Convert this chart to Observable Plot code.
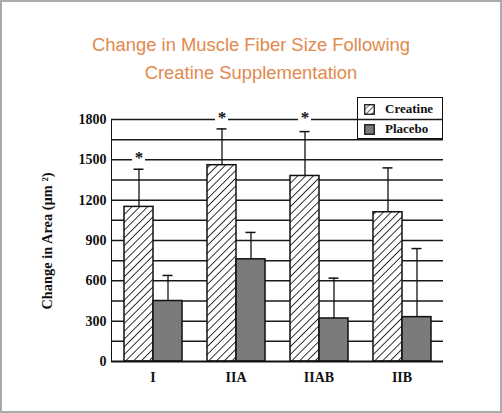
<!DOCTYPE html>
<html>
<head>
<meta charset="utf-8">
<script src="https://cdn.jsdelivr.net/npm/d3@7"></script>
<script src="https://cdn.jsdelivr.net/npm/@observablehq/plot@0.6"></script>
<style>
  html, body { margin: 0; padding: 0; background: #fff; }
  #wrap { position: relative; width: 502px; height: 413px; overflow: hidden; background: #fff; }
  #border { position: absolute; left: 0; top: 0; width: 502px; height: 413px; box-sizing: border-box; border: 2px solid #ababab; pointer-events: none; }
  #title { height: 95px; box-sizing: border-box; padding-top: 31px; text-align: center; font-family: "Liberation Sans", Arial, sans-serif; font-size: 18.4px; line-height: 28px; color: #e2894d; }
  #chart svg { display: block; background: transparent; }
  #ylabel { position: absolute; left: 47px; top: 241px; transform: translate(-50%, -50%) rotate(-90deg); white-space: nowrap; font-family: "Liberation Serif", "Times New Roman", serif; font-weight: bold; font-size: 14.4px; color: #111; }
  #legend { position: absolute; left: 357px; top: 97px; width: 86px; height: 42px; box-sizing: border-box; border: 1.5px solid #111; font-family: "Liberation Serif", "Times New Roman", serif; font-weight: bold; font-size: 13px; color: #111; }
  #legend .row { position: absolute; left: 6px; display: flex; align-items: center; }
  #legend .row svg { margin-right: 10px; }
</style>
</head>
<body>
<div id="wrap">
  <div id="title">Change in Muscle Fiber Size Following<br>Creatine Supplementation</div>
  <div id="chart"></div>
  <div id="ylabel">Change in Area (µm ²)</div>
  <div id="legend"></div>
  <div id="border"></div>
</div>
<script>
// ---- data ----
const fiberTypes = ["I", "IIA", "IIAB", "IIB"];
const seriesNames = ["Creatine", "Placebo"];
const creatineMean = [1150, 1460, 1380, 1110];
const creatineErr = [280, 270, 330, 330];
const placeboMean = [450, 760, 320, 330];
const placeboErr = [190, 200, 300, 510];
const significance = [1500, 1800, 1800, null]; // asterisk level above creatine bar
const yTickLabels = [0, 300, 600, 900, 1200, 1500, 1800];
const gridLevels = [150, 300, 450, 600, 750, 900, 1050, 1200, 1350, 1500, 1650, 1800];

const fills = { Creatine: "url(#hatch)", Placebo: "#7b7b7b" };

const rows = [];
fiberTypes.forEach((t, i) => {
  rows.push({ type: t, series: "Creatine", mean: creatineMean[i], err: creatineErr[i] });
  rows.push({ type: t, series: "Placebo", mean: placeboMean[i], err: placeboErr[i] });
});
rows.forEach(d => d.top = d.mean + d.err);
const sigRows = fiberTypes.map((t, i) => ({ type: t, series: "Creatine", y: significance[i] })).filter(d => d.y != null);
const boundaryRows = fiberTypes.map(t => ({ type: t, series: "Placebo" }));

const defs = () => {
  const g = d3.create("svg:defs");
  const p = g.append("pattern").attr("id", "hatch").attr("patternUnits", "userSpaceOnUse")
    .attr("width", 5.5).attr("height", 5.5).attr("patternTransform", "rotate(45)");
  p.append("rect").attr("width", 5.5).attr("height", 5.5).attr("fill", "white");
  p.append("line").attr("x1", 0).attr("y1", 0).attr("x2", 0).attr("y2", 5.5).attr("stroke", "#111").attr("stroke-width", 1.7);
  return g.node();
};

const serif = "'Liberation Serif', 'Times New Roman', serif";

const chart = Plot.plot({
  width: 502,
  height: 318,
  marginLeft: 109,
  marginRight: 58,
  marginTop: 24,
  marginBottom: 52,
  style: { fontFamily: serif, fontWeight: "bold", fontSize: "14px", color: "#111", background: "transparent" },
  fx: { domain: fiberTypes, padding: 0, axis: "bottom", tickSize: 0, tickPadding: 11, label: null },
  x: { domain: seriesNames, paddingInner: 0, paddingOuter: 0.4, axis: null },
  y: { domain: [0, 1800], ticks: yTickLabels, tickSize: 0, tickPadding: 5, tickFormat: d => String(d), label: null, line: true },
  marks: [
    defs,
    Plot.ruleY(gridLevels, { stroke: "#1a1a1a", strokeWidth: 1.5 }),
    Plot.tickY(sigRows, { fx: "type", x: "series", y: "y", stroke: "white", strokeWidth: 4, insetLeft: 8, insetRight: 8 }),
    Plot.text(sigRows, { fx: "type", x: "series", y: "y", text: () => "*", fontSize: 17, dy: -2, lineAnchor: "middle", fill: "#111" }),
    Plot.ruleX(rows, { fx: "type", x: "series", y1: "mean", y2: "top", stroke: "#111", strokeWidth: 1.3 }),
    Plot.tickY(rows, { fx: "type", x: "series", y: "top", stroke: "#111", strokeWidth: 1.5, insetLeft: 9.5, insetRight: 9.5 }),
    Plot.barY(rows, { fx: "type", x: "series", y: "mean", fill: d => fills[d.series], stroke: "#111", strokeWidth: 1.5 }),
    Plot.ruleY([0], { stroke: "#111", strokeWidth: 1.8 }),
    // small tick marks at the right edge of each group on the baseline
    Plot.ruleY(boundaryRows, { fx: "type", y: 0, x1: () => 0, x2: () => 0, stroke: "none" })
  ]
});
document.getElementById("chart").appendChild(chart);

// legend
const legend = document.getElementById("legend");
seriesNames.forEach((s, i) => {
  const row = document.createElement("div");
  row.className = "row";
  row.style.top = (i === 0 ? 3 : 23) + "px";
  const sw = d3.create("svg").attr("width", 11).attr("height", 11);
  if (s === "Creatine") {
    const pd = sw.append("defs").append("pattern").attr("id", "lhatch").attr("patternUnits", "userSpaceOnUse")
      .attr("width", 4).attr("height", 4).attr("patternTransform", "rotate(45)");
    pd.append("rect").attr("width", 4).attr("height", 4).attr("fill", "white");
    pd.append("line").attr("x1", 0).attr("y1", 0).attr("x2", 0).attr("y2", 4).attr("stroke", "#111").attr("stroke-width", 1.2);
  }
  sw.append("rect").attr("x", 0.75).attr("y", 0.75).attr("width", 9.5).attr("height", 9.5)
    .attr("fill", s === "Creatine" ? "url(#lhatch)" : "#7b7b7b").attr("stroke", "#111").attr("stroke-width", 1.3);
  row.appendChild(sw.node());
  const span = document.createElement("span");
  span.textContent = s;
  row.appendChild(span);
  legend.appendChild(row);
});
</script>
</body>
</html>
